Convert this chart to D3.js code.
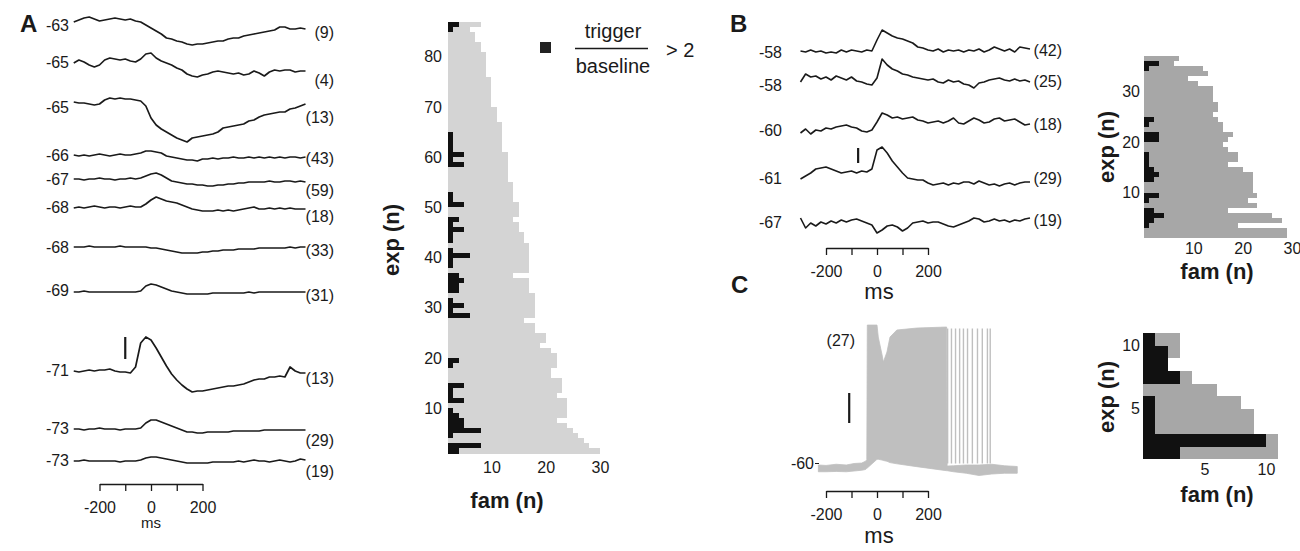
<!DOCTYPE html>
<html><head><meta charset="utf-8">
<script src="https://cdn.jsdelivr.net/npm/d3@7"></script>
<style>html,body{margin:0;padding:0;background:#fff;}svg{display:block;}</style>
</head><body><svg id="c" width="1300" height="551"></svg>
<script>
// ---------------- DATA ----------------
// common time grid (ms) for panels A and B
const tGrid = [-300,-280,-260,-240,-220,-200,-180,-160,-140,-120,-100,-80,-60,-40,-20,0,20,40,60,80,100,120,140,160,180,200,220,240,260,280,300,320,340,360,380,400,420,440,460,480,500,520,540,560,580,600];

// Panel A: resting potentials, family counts, averaged traces (mV relative to rest)
const aRest = [-63,-65,-65,-66,-67,-68,-68,-69,-71,-73,-73];
const aN = [9,4,13,43,59,18,33,31,13,29,19];
const aT1 = [0,0.2,0.4,0.5,0.3,0.1,0.2,0.3,0.4,0.3, 0.2,0.3,0.1,0,-0.3,-0.6,-0.9,-1.2,-1.6,-1.7, -1.9,-2,-2.2,-2.3,-2.2,-2.2,-2.1,-2,-1.9,-1.9, -1.7,-1.6,-1.6,-1.4,-1.3,-1.2,-1.1,-1,-0.9,-0.8, -0.5,-0.5,-0.7,-0.7,-0.6,-0.7];
const aT2 = [0,0.3,0.1,-0.2,-0.4,-0.2,0.3,0.5,0.4,0.3, 0.4,0.2,0.1,0.4,0.9,1,0.5,0.2,0,-0.2, -0.5,-0.7,-1.1,-1.3,-1.4,-1.2,-1.1,-0.9,-0.8,-0.9, -1,-1.1,-1,-1.2,-1.1,-0.8,-1,-1.3,-0.9,-0.7, -0.8,-0.7,-0.7,-0.9,-0.8,-0.8];
const aT3 = [0,-0.1,-0.1,-0.2,-0.3,-0.2,0.2,0.4,0.3,0.4, 0.3,0.3,0.2,0.1,-0.4,-1.6,-2.3,-2.7,-3,-3.3, -3.6,-3.8,-4,-3.6,-3.5,-3.4,-3.3,-3.2,-3,-2.6, -2.5,-2.4,-2.3,-2.2,-1.9,-1.8,-1.5,-1.3,-1.2,-1.1, -1,-1,-0.7,-0.6,-0.4,-0.2];
const aT4 = [0,-0.1,0,-0.1,0,0.1,0,-0.1,0,0.1, 0,0,0.1,0.2,0.4,0.4,0.3,0.2,-0.1,-0.2, -0.3,-0.4,-0.5,-0.5,-0.6,-0.4,-0.4,-0.3,-0.4,-0.3, -0.3,-0.2,-0.3,-0.3,-0.2,-0.3,-0.2,-0.3,-0.2,-0.3, -0.2,-0.3,-0.2,-0.2,-0.3,-0.2];
const aT5 = [0,0,-0.1,0,0,0.1,0,0,-0.1,0, 0,0.1,0,0.1,0.3,0.5,0.6,0.4,0.1,-0.2, -0.3,-0.4,-0.5,-0.5,-0.6,-0.6,-0.7,-0.7,-0.6,-0.6, -0.5,-0.5,-0.4,-0.4,-0.3,-0.3,-0.3,-0.3,-0.2,-0.3, -0.3,-0.2,-0.2,-0.3,-0.2,-0.3];
const aT6 = [-0.1,0,-0.1,0,0.1,0,-0.1,0,0,-0.1, 0,0.1,0,0,0.3,0.7,1,0.8,0.6,0.5, 0.4,0.2,0,-0.2,-0.3,-0.4,-0.4,-0.4,-0.3,-0.4, -0.3,-0.4,-0.3,-0.2,-0.1,0,-0.2,-0.2,-0.1,-0.2, -0.1,-0.2,-0.1,-0.2,-0.2,-0.2];
const aT7 = [0,0,0,0.1,0,0,0,0,0,0.1, 0,0,0,0,0,-0.1,-0.1,-0.2,-0.3,-0.4, -0.5,-0.6,-0.6,-0.6,-0.6,-0.5,-0.5,-0.4,-0.4,-0.3, -0.3,-0.3,-0.2,-0.2,-0.2,-0.2,-0.1,-0.1,-0.1,-0.1, -0.1,-0.1,0,-0.1,0,0];
const aT8 = [0,0,0.1,0,0,0,0,0,0,0, 0,0,0,0.1,0.6,0.8,0.7,0.5,0.3,0.1, 0,-0.1,-0.2,-0.2,-0.2,-0.2,-0.2,-0.1,-0.1,-0.1, -0.1,-0.1,-0.1,-0.1,0,-0.1,0,0,0,0, 0,0,0,0,0,0];
const aT9 = [0,-0.1,0,0.1,0,0.1,0.1,0.2,0,-0.1, -0.1,-0.2,0.4,2.8,3.4,3.1,2.3,1.4,0.5,-0.3, -0.9,-1.4,-1.8,-2.1,-2,-2,-1.9,-1.8,-1.7,-1.6, -1.5,-1.5,-1.4,-1.3,-1.1,-0.9,-0.8,-0.8,-0.6,-0.6, -0.5,-0.6,0.4,0,-0.2,-0.2];
const aT10 = [0,0,-0.1,0,0,0.1,0,0,0,-0.1, 0,0,0,0.1,0.6,0.9,0.9,0.7,0.5,0.3, 0.1,-0.1,-0.3,-0.3,-0.4,-0.4,-0.3,-0.3,-0.3,-0.3, -0.3,-0.2,-0.2,-0.2,-0.2,-0.2,-0.2,-0.1,-0.1,-0.1, -0.1,-0.1,-0.1,-0.1,-0.1,-0.1];
const aT11 = [0,0,0.1,0,0,0,0,0,0,-0.1, 0,0,0,0.1,0.3,0.4,0.4,0.3,0.2,0.1, 0,-0.1,-0.2,-0.2,-0.2,-0.2,-0.2,-0.1,-0.1,-0.1, -0.1,-0.1,0,-0.1,0,0.1,0,0,-0.1,0, 0.1,0,-0.1,0,0.2,0.1];

// Panel B
const bRest = [-58,-58,-60,-61,-67];
const bN = [42,25,18,29,19];
const bT1 = [0,-0.1,0.1,-0.1,0,-0.2,-0.1,-0.2,0.1,-0.1, 0.1,0,-0.1,0.1,0,1.1,2.1,1.8,1.5,1.3, 1.2,1,0.8,0.4,0.3,0.1,0,0.2,-0.1,0.1, 0,0.1,-0.1,0.1,0,0.2,-0.1,0.1,0.4,0.2, 0,0.2,-0.1,0.4,0.3,0.2];
const bT2 = [-0.3,0.5,0.2,0.3,0,0.2,-0.1,0.3,0.1,-0.1, 0.2,-0.2,-0.3,-0.5,-0.6,0.1,2,1.4,1,0.8, 0.5,0.4,0.2,0.1,0,-0.1,0,-0.3,-0.4,-0.1, -0.3,-0.2,-0.5,-0.6,-0.9,-0.4,-0.3,-0.1,0,0.1, -0.1,-0.2,0,-0.2,-0.1,-0.3];
const bT3 = [-0.3,0.1,-0.4,0,-0.1,0.2,0.1,0.3,0.4,0.5, 0.3,0.2,-0.1,-0.2,0,0.8,1.7,1.5,1.2,1.3, 1.1,1.2,1.3,1,0.9,0.7,0.8,0.9,0.7,0.9, 1.2,0.7,0.6,0.9,1.2,1,0.7,0.8,1.1,1.2, 0.9,1,1.1,0.8,0.5,0.6];
const bT4 = [-0.7,-0.4,-0.1,0.3,0.4,0.5,0.3,0.1,-0.1,0, 0.1,-0.1,0.1,0,0.3,2.2,2.5,1.9,1.1,0.5, -0.1,-0.6,-0.7,-0.8,-0.8,-1.1,-1.3,-1.2,-1.1,-1.3, -1.1,-1.2,-1,-1,-1.2,-0.9,-1.1,-1.3,-1.2,-1.4, -1.2,-1.1,-1.3,-1.1,-1,-1];
const bT5 = [0.4,-0.6,-0.1,-0.4,0,-0.2,0.1,-0.1,0.2,0, 0.2,0.3,0.1,-0.1,-0.3,-1.1,-0.8,-0.4,-0.3,-0.5, -0.9,-0.6,-0.1,0,0.1,-0.1,0,0,-0.2,-0.4, -0.5,-0.3,-0.1,0.1,0.4,0.3,0,0.1,0.3,0.1, 0.2,0,0.2,0.1,0.3,0.4];

// Panel C: overlaid traces (mV), envelope of the grey band and dense burst, sparse late spikes
const cRest = -60;
const cN = 27;
const cT      = [-230,-200,-160,-120,-90,-60,-45,-40,-38,0,5,20,25,39,51,78,156,273,275,300,350,400,450,500,550];
const cTop    = [-58,-58.3,-57.5,-58,-57,-56.7,-55.5,-54.5,35.3,35.3,27.3,15.3,10.7,17.3,27.3,32,33.3,34,-58.7,-58.5,-58,-58,-57.5,-58.5,-59];
const cBottom = [-62.5,-62.5,-62.3,-62.5,-62,-61.5,-61,-60.2,-60,-54.2,-54.2,-54.7,-55,-55.5,-56.4,-57.2,-59.1,-61.8,-61.8,-62.5,-63.5,-65,-64,-63.5,-63.5];
const cSpikeT = [277,292,308,324,339,355,374,394,413,433,444];
const cSpikePeak = 33;
const cSpikeTrough = -57;

// Histograms: per experiment (row 1 = bottom) end of grey bar (all families) and black bar (trigger/baseline > 2)
const aGrey  = [30,28,27,26,25,24,22,24,24,24, 24,22,23,23,23,21,21,22,22,22, 21,19,20,20,18,18,16,18,18,18, 18,18,17,17,17,14,17,17,17,17, 17,17,16,16,15,15,14,15,15,15, 14,14,14,14,13,13,13,13,13,13, 12,12,12,12,12,12,11,11,11,10, 10,10,10,10,10,9,9,9,9,9, 8,8,7,7,6,8];
const aBlack = [4,8,0,3,8,5,5,4,3,0, 5,3,3,5,0,0,0,3,4,0, 0,0,0,0,0,0,0,6,3,5, 3,0,4,4,5,4,0,3,3,6, 3,0,3,3,5,3,4,0,0,5, 3,3,0,0,0,0,0,5,3,5, 3,3,3,3,0,0,0,0,0,0, 0,0,0,0,0,0,0,0,0,0, 0,0,0,0,3,4];
const bGrey  = [29,29,19,28,26,17,23,21,23,22, 22,22,22,20,17,19,19,17,16,17, 18,16,16,15,14,15,15,14,14,14, 11,9,13,12,6,7];
const bBlack = [0,0,1,2,4,2,0,1,3,0, 0,2,3,2,1,1,1,0,0,3, 3,0,1,2,0,0,0,0,0,0, 0,0,0,1,3,0];
const cGrey  = [11,11,9,9,8,6,4,2,3,3];
const cBlack = [3,10,1,1,1,0,3,2,2,1];

const timeTicks = [-200,-100,0,100,200];

// ---------------- DRAWING ----------------
const FONT = '"Liberation Sans", Arial, Helvetica, sans-serif';
const INK = "#1a1a1a";
const svg = d3.select("#c").attr("font-family", FONT);

function txt(x, y, s, size, anchor, weight, fill) {
  return svg.append("text").attr("x", x).attr("y", y).text(s)
    .attr("font-size", size).attr("text-anchor", anchor || "start")
    .attr("font-weight", weight || "normal").attr("fill", fill || INK);
}
function timeAxis(x, y, pad) {
  const g = svg.append("g").attr("transform", `translate(0,${y})`)
    .call(d3.axisBottom(x).tickValues(timeTicks)
      .tickFormat(d => (d % 200 === 0 ? String(d) : "")).tickSize(7).tickSizeOuter(0).tickPadding(pad));
  g.selectAll("text").attr("font-size", 16).attr("font-family", FONT).attr("fill", INK);
  g.selectAll("line,path").attr("stroke", INK).attr("stroke-width", 1.3);
}
function traceLine(x, y) { return d3.line().x((d, i) => x(tGrid[i])).y(d => y(d)); }

// ---- Panel A traces ----
const xA = d3.scaleLinear().domain([-200, 200]).range([99.5, 202.5]);
const pxPerMv = 10;
const aTraces = [aT1,aT2,aT3,aT4,aT5,aT6,aT7,aT8,aT9,aT10,aT11];
const aBaseY = [22,63,102,155,179,207,247,292,371,429,461];
const aRestLabelY = [25,62,107,155,179,207,247,290,370,428,460];
const aNLabelY = [32,80,117,158,190,216,250,295,378,440,471];
aTraces.forEach((tr, k) => {
  const y = d3.scaleLinear().domain([0, 1]).range([aBaseY[k], aBaseY[k] - pxPerMv]);
  svg.append("path").attr("d", traceLine(xA, y)(tr)).attr("fill", "none")
    .attr("stroke", INK).attr("stroke-width", 1.7).attr("stroke-linejoin", "round");
  txt(69, aRestLabelY[k], String(aRest[k]), 16, "end").attr("dy", "0.36em");
  txt(334, aNLabelY[k], "(" + aN[k] + ")", 16, "end").attr("dy", "0.36em");
});
{ // scale bar A (2.2 mV) near trace 9
  const y = d3.scaleLinear().domain([0, 1]).range([aBaseY[8], aBaseY[8] - pxPerMv]);
  svg.append("line").attr("x1", xA(-100)).attr("x2", xA(-100)).attr("y1", y(1.2)).attr("y2", y(3.4))
    .attr("stroke", INK).attr("stroke-width", 2.2);
}
timeAxis(xA, 484, 11);
txt(xA(0), 528, "ms", 15, "middle");
txt(20, 32, "A", 24, "start", "bold");

// ---- Panel A histogram ----
const xHA = d3.scaleLinear().domain([2, 30]).range([448, 600]);
const yHA = d3.scaleLinear().domain([1, 87]).range([453.5, 21.5]);
function hist(xS, yS, grey, black, greyCol) {
  const g = svg.append("g").attr("shape-rendering", "crispEdges");
  const x0 = xS.domain()[0];
  g.selectAll("rect.g").data(grey).join("rect")
    .attr("x", xS(x0)).attr("y", (d, i) => yS(i + 2)).attr("width", d => xS(d) - xS(x0))
    .attr("height", (d, i) => yS(i + 1) - yS(i + 2)).attr("fill", greyCol);
  g.selectAll("rect.b").data(black.map((v, i) => ({ v, i })).filter(d => d.v > 0)).join("rect")
    .attr("x", xS(x0)).attr("y", d => yS(d.i + 2)).attr("width", d => xS(d.v) - xS(x0))
    .attr("height", d => yS(d.i + 1) - yS(d.i + 2)).attr("fill", "#111");
}
function histAxes(xS, yS, xTicks, yTicks, xPad, yPad) {
  const gx = svg.append("g").attr("transform", `translate(0,${yS.range()[0]})`)
    .call(d3.axisBottom(xS).tickValues(xTicks).tickSize(0).tickPadding(xPad).tickFormat(d3.format("d")));
  const gy = svg.append("g").attr("transform", `translate(${xS.range()[0]},0)`)
    .call(d3.axisLeft(yS).tickValues(yTicks).tickSize(0).tickPadding(yPad).tickFormat(d3.format("d")));
  [gx, gy].forEach(g => {
    g.select(".domain").remove();
    g.selectAll("text").attr("font-size", 16).attr("font-family", FONT).attr("fill", INK);
  });
}
hist(xHA, yHA, aGrey, aBlack, "#d4d4d4");
histAxes(xHA, yHA, [10, 20, 30], [10, 20, 30, 40, 50, 60, 70, 80], 8.6, 6);
txt(507, 508, "fam (n)", 22, "middle", "bold");
txt(0, 0, "exp (n)", 22, "middle", "bold").attr("transform", "translate(399,240) rotate(-90)");
// legend
svg.append("rect").attr("x", 540).attr("y", 42).attr("width", 11).attr("height", 11).attr("fill", "#222");
txt(613, 38, "trigger", 20, "middle");
svg.append("line").attr("x1", 575).attr("x2", 648).attr("y1", 48.5).attr("y2", 48.5).attr("stroke", INK).attr("stroke-width", 1.4);
txt(613, 73, "baseline", 20, "middle");
txt(666, 57, "> 2", 20, "start");

// ---- Panel B traces ----
const xB = d3.scaleLinear().domain([-200, 200]).range([826, 928]);
const bTraces = [bT1, bT2, bT3, bT4, bT5];
const bBaseY = [51, 79, 130, 172, 222];
const bRestLabelY = [52, 85, 130, 178, 222];
const bNLabelY = [50, 81, 124, 178, 220];
bTraces.forEach((tr, k) => {
  const y = d3.scaleLinear().domain([0, 1]).range([bBaseY[k], bBaseY[k] - pxPerMv]);
  svg.append("path").attr("d", traceLine(xB, y)(tr)).attr("fill", "none")
    .attr("stroke", INK).attr("stroke-width", 1.6).attr("stroke-linejoin", "round");
  txt(782, bRestLabelY[k], String(bRest[k]), 16, "end").attr("dy", "0.36em");
  txt(1062, bNLabelY[k], "(" + bN[k] + ")", 16, "end").attr("dy", "0.36em");
});
{
  const y = d3.scaleLinear().domain([0, 1]).range([bBaseY[3], bBaseY[3] - pxPerMv]);
  svg.append("line").attr("x1", xB(-74)).attr("x2", xB(-74)).attr("y1", y(0.9)).attr("y2", y(2.4))
    .attr("stroke", INK).attr("stroke-width", 2.2);
}
timeAxis(xB, 248, 10.6);
txt(879, 299, "ms", 22, "middle");
txt(730, 32, "B", 24, "start", "bold");

// ---- Panel B histogram ----
const xHB = d3.scaleLinear().domain([0, 30]).range([1144, 1292]);
const yHB = d3.scaleLinear().domain([1, 37]).range([238, 56]);
hist(xHB, yHB, bGrey, bBlack, "#a7a7a7");
histAxes(xHB, yHB, [10, 20, 30], [10, 20, 30], 5, 4);
txt(1217, 279, "fam (n)", 22, "middle", "bold");
txt(0, 0, "exp (n)", 22, "middle", "bold").attr("transform", "translate(1114,147) rotate(-90)");

// ---- Panel C traces ----
const xC = d3.scaleLinear().domain([-200, 200]).range([826, 928]);
const yC = d3.scaleLinear().domain([-60, 40]).range([468, 318]);
const GREY_C = "#bfbfbf";
svg.append("path").datum(cT).attr("fill", GREY_C).attr("stroke", GREY_C).attr("stroke-width", 0.8)
  .attr("d", d3.area().x(d => xC(d)).y0((d, i) => yC(cBottom[i])).y1((d, i) => yC(cTop[i])));
svg.selectAll("line.spk").data(cSpikeT).join("line")
  .attr("x1", d => xC(d)).attr("x2", d => xC(d)).attr("y1", yC(cSpikeTrough)).attr("y2", yC(cSpikePeak))
  .attr("stroke", GREY_C).attr("stroke-width", 1.4);
svg.append("line").attr("x1", xC(-109)).attr("x2", xC(-109)).attr("y1", yC(-30)).attr("y2", yC(-10))
  .attr("stroke", INK).attr("stroke-width", 2.2);
txt(814, yC(-57), String(cRest), 16, "end").attr("dy", "0.36em");
svg.append("line").attr("x1", 815).attr("x2", 819).attr("y1", yC(-57)).attr("y2", yC(-57)).attr("stroke", INK).attr("stroke-width", 1);
txt(855, 340, "(" + cN + ")", 16, "end").attr("dy", "0.36em");
timeAxis(xC, 491, 10.6);
txt(879, 543, "ms", 22, "middle");
txt(731, 293, "C", 24, "start", "bold");

// ---- Panel C histogram ----
const xHC = d3.scaleLinear().domain([0, 10]).range([1143, 1266]);
const yHC = d3.scaleLinear().domain([1, 11]).range([459.3, 333]);
hist(xHC, yHC, cGrey, cBlack, "#a7a7a7");
histAxes(xHC, yHC, [5, 10], [5, 10], 4.3, 3);
txt(1217, 502, "fam (n)", 22, "middle", "bold");
txt(0, 0, "exp (n)", 22, "middle", "bold").attr("transform", "translate(1114,397) rotate(-90)");
</script>
</body></html>
